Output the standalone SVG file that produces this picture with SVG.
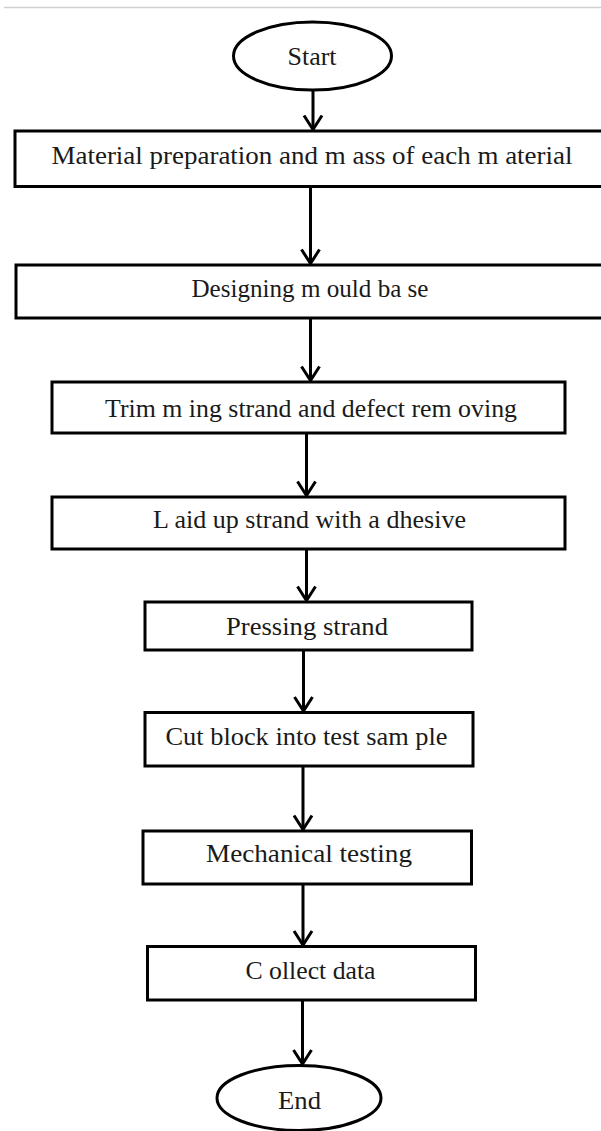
<svg xmlns="http://www.w3.org/2000/svg" width="601" height="1131" viewBox="0 0 601 1131">
  <style>
    .shape { fill: #ffffff; stroke: #000000; stroke-width: 3; }
    .label { font-family: "Liberation Serif", "Times New Roman", serif; font-size: 26px; fill: #1a1a1a; text-anchor: middle; }
    .conn { stroke: #000000; stroke-width: 3; fill: none; }
  </style>
  <defs>
    <marker id="arrow" viewBox="-16 -11 18 22" refX="0" refY="0" markerWidth="18" markerHeight="22" markerUnits="userSpaceOnUse" orient="auto">
      <path d="M-14,-9 L0,0 L-14,9" fill="none" stroke="#000000" stroke-width="3" stroke-linejoin="miter"/>
    </marker>
  </defs>
  <rect x="0" y="0" width="601" height="1131" fill="#ffffff"/>
  <line x1="4" y1="7.5" x2="601" y2="7.5" stroke="#d0d0d0" stroke-width="1.5"/>

  <g id="connectors">
    <line class="conn" x1="313" y1="91" x2="313" y2="129.5" marker-end="url(#arrow)"/>
    <line class="conn" x1="310.5" y1="187" x2="310.5" y2="263.5" marker-end="url(#arrow)"/>
    <line class="conn" x1="310.5" y1="319" x2="310.5" y2="380.5" marker-end="url(#arrow)"/>
    <line class="conn" x1="306.5" y1="434" x2="306.5" y2="495.5" marker-end="url(#arrow)"/>
    <line class="conn" x1="306.5" y1="550" x2="306.5" y2="600.5" marker-end="url(#arrow)"/>
    <line class="conn" x1="303.5" y1="651" x2="303.5" y2="711" marker-end="url(#arrow)"/>
    <line class="conn" x1="303" y1="767" x2="303" y2="829.5" marker-end="url(#arrow)"/>
    <line class="conn" x1="303" y1="885" x2="303" y2="945" marker-end="url(#arrow)"/>
    <line class="conn" x1="302.5" y1="1001" x2="302.5" y2="1064" marker-end="url(#arrow)"/>
  </g>

  <g id="start">
    <ellipse class="shape" cx="312.5" cy="56" rx="79" ry="34"/>
    <text class="label" x="312" y="65" textLength="49" lengthAdjust="spacingAndGlyphs">Start</text>
  </g>
  <g id="material-preparation">
    <rect class="shape" x="15" y="131" width="600" height="55.5"/>
    <text class="label" x="312" y="164" textLength="521" lengthAdjust="spacingAndGlyphs">Material preparation and m ass of each m aterial</text>
  </g>
  <g id="designing-mould">
    <rect class="shape" x="16" y="265" width="600" height="53"/>
    <text class="label" x="310" y="297" textLength="237" lengthAdjust="spacingAndGlyphs">Designing m ould ba se</text>
  </g>
  <g id="trimming">
    <rect class="shape" x="52" y="382" width="513" height="51"/>
    <text class="label" x="311" y="417" textLength="412" lengthAdjust="spacingAndGlyphs">Trim m ing strand and defect rem oving</text>
  </g>
  <g id="laid-up">
    <rect class="shape" x="52" y="497" width="513" height="52"/>
    <text class="label" x="309.5" y="528" textLength="313" lengthAdjust="spacingAndGlyphs">L aid up strand with a dhesive</text>
  </g>
  <g id="pressing">
    <rect class="shape" x="145" y="602" width="327" height="48"/>
    <text class="label" x="307" y="635" textLength="162" lengthAdjust="spacingAndGlyphs">Pressing strand</text>
  </g>
  <g id="cut-block">
    <rect class="shape" x="145" y="712.5" width="328" height="53.5"/>
    <text class="label" x="306.5" y="745" textLength="282" lengthAdjust="spacingAndGlyphs">Cut block into test sam ple</text>
  </g>
  <g id="mechanical-testing">
    <rect class="shape" x="143" y="831" width="328.5" height="53"/>
    <text class="label" x="309" y="862" textLength="206" lengthAdjust="spacingAndGlyphs">Mechanical testing</text>
  </g>
  <g id="collect-data">
    <rect class="shape" x="147.5" y="946.5" width="328" height="53.5"/>
    <text class="label" x="310.5" y="979" textLength="130" lengthAdjust="spacingAndGlyphs">C ollect data</text>
  </g>
  <g id="end">
    <ellipse class="shape" cx="299" cy="1098" rx="82" ry="32.5"/>
    <text class="label" x="299.5" y="1109" textLength="43" lengthAdjust="spacingAndGlyphs">End</text>
  </g>
</svg>
